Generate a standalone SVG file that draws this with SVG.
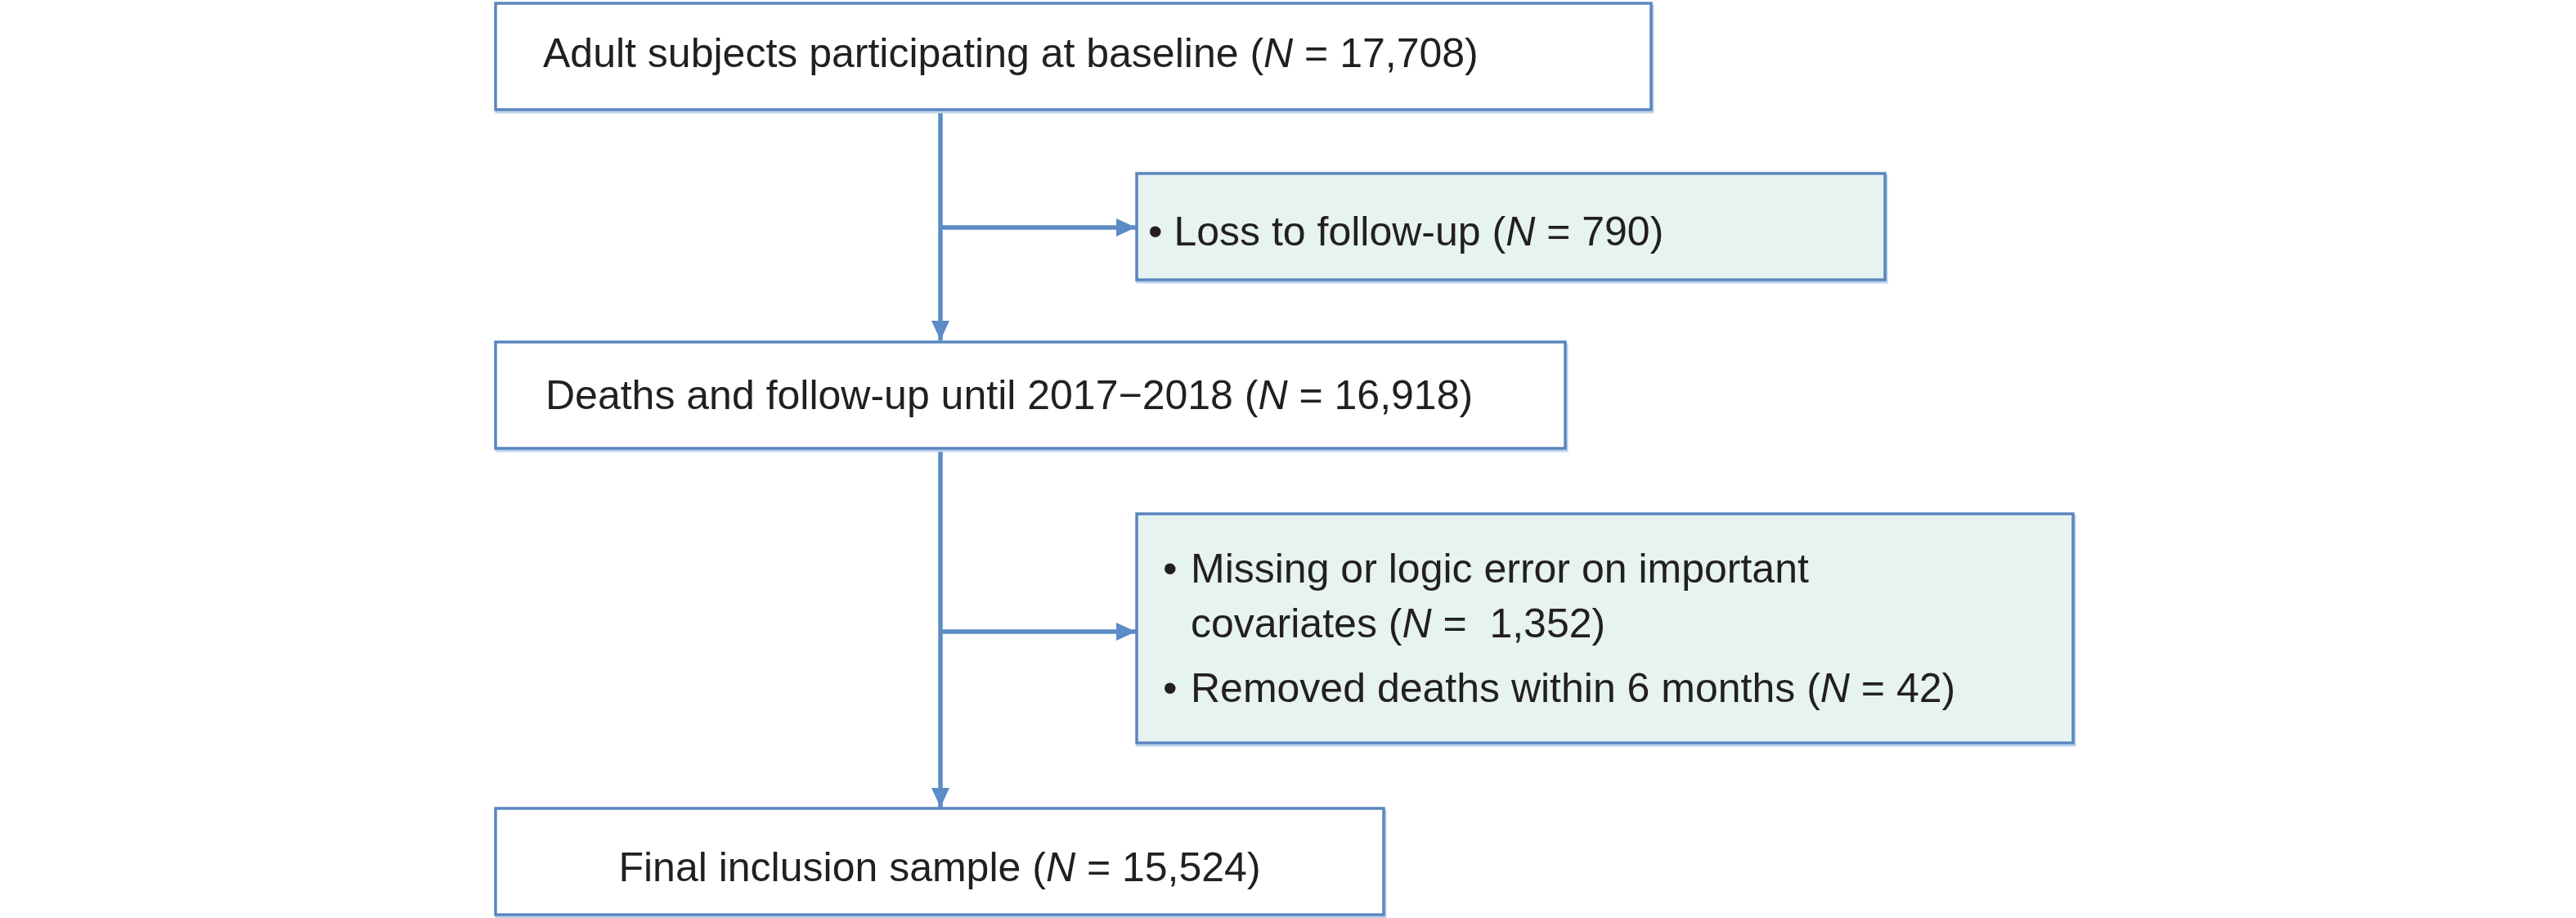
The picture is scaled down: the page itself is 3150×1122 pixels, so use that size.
<svg xmlns="http://www.w3.org/2000/svg" width="3150" height="1122" viewBox="0 0 3150 1122">
  <defs>
    <style>
      .box { fill: #ffffff; stroke: #5a86bf; stroke-width: 3.5; }
      .ex { fill: #e6f3f0; stroke: #5a86bf; stroke-width: 3.5; }
      .halo { fill: none; stroke: #bcd3ea; stroke-width: 3; }
      .lbl { font-family: "Liberation Sans", Arial, sans-serif; font-size: 50px; fill: #231f20; white-space: pre; }
      .it { font-style: italic; }
      .conn { stroke: #5b8cc6; stroke-width: 5.5; fill: none; }
    </style>
    <marker id="ah" markerUnits="userSpaceOnUse" markerWidth="26" markerHeight="26" viewBox="0 0 26 26" refX="24" refY="13" orient="auto">
      <path d="M0,2 L24,13 L0,24 Z" fill="#5b8cc6"/>
    </marker>
  </defs>

  <g id="connectors">
    <line class="conn" x1="1150" y1="134" x2="1150" y2="416" marker-end="url(#ah)"/>
    <line class="conn" x1="1150" y1="278" x2="1389" y2="278" marker-end="url(#ah)"/>
    <line class="conn" x1="1150" y1="550" x2="1150" y2="987" marker-end="url(#ah)"/>
    <line class="conn" x1="1150" y1="772" x2="1389" y2="772" marker-end="url(#ah)"/>
  </g>

  <g id="node-baseline">
    <rect class="halo" x="607" y="7" width="1414" height="130"/>
    <rect class="box" x="606" y="4" width="1413" height="130"/>
    <text class="lbl" x="664" y="82">Adult subjects participating at baseline (<tspan class="it">N</tspan> = 17,708)</text>
  </g>

  <g id="node-loss">
    <rect class="halo" x="1391" y="215" width="916" height="130"/>
    <rect class="ex" x="1390" y="212" width="915" height="130"/>
    <text class="lbl" x="1404" y="300">• Loss to follow-up (<tspan class="it">N</tspan> = 790)</text>
  </g>

  <g id="node-followup">
    <rect class="halo" x="607" y="421" width="1309" height="130"/>
    <rect class="box" x="606" y="418" width="1308" height="130"/>
    <text class="lbl" x="667" y="500">Deaths and follow-up until 2017−2018 (<tspan class="it">N</tspan> = 16,918)</text>
  </g>

  <g id="node-excluded">
    <rect class="halo" x="1391" y="631" width="1146" height="280"/>
    <rect class="ex" x="1390" y="628" width="1145" height="280"/>
    <text class="lbl" x="1422" y="712">•</text>
    <text class="lbl" x="1456" y="712">Missing or logic error on important</text>
    <text class="lbl" x="1456" y="779">covariates (<tspan class="it">N</tspan> =  1,352)</text>
    <text class="lbl" x="1422" y="858">•</text>
    <text class="lbl" x="1456" y="858">Removed deaths within 6 months (<tspan class="it">N</tspan> = 42)</text>
  </g>

  <g id="node-final">
    <rect class="halo" x="607" y="991" width="1087" height="130"/>
    <rect class="box" x="606" y="988" width="1086" height="130"/>
    <text class="lbl" x="1149" y="1077" text-anchor="middle">Final inclusion sample (<tspan class="it">N</tspan> = 15,524)</text>
  </g>
</svg>
